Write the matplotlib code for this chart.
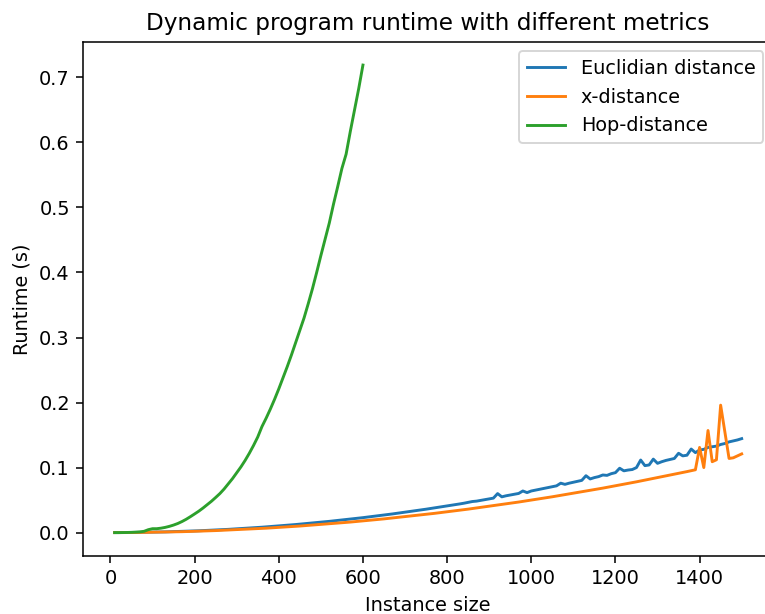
import matplotlib
matplotlib.use("Agg")
import matplotlib.pyplot as plt

# instance sizes (step 10)
sizes = list(range(10, 1510, 10))

# Euclidian distance runtime (s)
euclid = [
    0.0000, 0.0000, 0.0001, 0.0001, 0.0002, 0.0002, 0.0003, 0.0004, 0.0005, 0.0006,
    0.0008, 0.0009, 0.0011, 0.0013, 0.0014, 0.0016, 0.0018, 0.0021, 0.0023, 0.0026,
    0.0028, 0.0031, 0.0034, 0.0037, 0.0040, 0.0043, 0.0047, 0.0050, 0.0054, 0.0058,
    0.0062, 0.0066, 0.0070, 0.0074, 0.0078, 0.0083, 0.0088, 0.0092, 0.0097, 0.0102,
    0.0108, 0.0113, 0.0118, 0.0124, 0.0130, 0.0135, 0.0141, 0.0147, 0.0154, 0.0160,
    0.0166, 0.0173, 0.0180, 0.0187, 0.0194, 0.0201, 0.0208, 0.0215, 0.0223, 0.0230,
    0.0238, 0.0246, 0.0254, 0.0262, 0.0270, 0.0279, 0.0287, 0.0296, 0.0305, 0.0314,
    0.0323, 0.0332, 0.0341, 0.0350, 0.0360, 0.0370, 0.0379, 0.0389, 0.0399, 0.0410,
    0.0420, 0.0430, 0.0441, 0.0452, 0.0465, 0.0478, 0.0484, 0.0496, 0.0507, 0.0518,
    0.0530, 0.0600, 0.0550, 0.0566, 0.0578, 0.0590, 0.0602, 0.0640, 0.0615, 0.0640,
    0.0653, 0.0666, 0.0679, 0.0692, 0.0706, 0.0719, 0.0760, 0.0742, 0.0760, 0.0774,
    0.0789, 0.0803, 0.0875, 0.0825, 0.0846, 0.0861, 0.0886, 0.0880, 0.0906, 0.0922,
    0.0990, 0.0950, 0.0962, 0.0970, 0.1000, 0.1116, 0.1030, 0.1040, 0.1130, 0.1065,
    0.1090, 0.1110, 0.1125, 0.1140, 0.1220, 0.1180, 0.1190, 0.1285, 0.1230, 0.1270,
    0.1280, 0.1310, 0.1320, 0.1330, 0.1355, 0.1370, 0.1395, 0.1410, 0.1425, 0.1445,
]

# x-distance runtime (s)
xdist = [
    0.0000, 0.0000, 0.0000, 0.0001, 0.0001, 0.0002, 0.0002, 0.0003, 0.0004, 0.0005,
    0.0006, 0.0007, 0.0008, 0.0010, 0.0011, 0.0013, 0.0014, 0.0016, 0.0018, 0.0020,
    0.0022, 0.0024, 0.0026, 0.0029, 0.0031, 0.0034, 0.0036, 0.0039, 0.0042, 0.0045,
    0.0048, 0.0051, 0.0054, 0.0058, 0.0061, 0.0065, 0.0068, 0.0072, 0.0076, 0.0080,
    0.0084, 0.0088, 0.0092, 0.0097, 0.0101, 0.0106, 0.0110, 0.0115, 0.0120, 0.0125,
    0.0130, 0.0135, 0.0140, 0.0146, 0.0151, 0.0157, 0.0162, 0.0168, 0.0174, 0.0180,
    0.0186, 0.0192, 0.0198, 0.0205, 0.0211, 0.0218, 0.0224, 0.0231, 0.0238, 0.0245,
    0.0252, 0.0259, 0.0266, 0.0274, 0.0281, 0.0289, 0.0296, 0.0304, 0.0312, 0.0320,
    0.0328, 0.0336, 0.0344, 0.0353, 0.0361, 0.0370, 0.0378, 0.0387, 0.0396, 0.0405,
    0.0414, 0.0423, 0.0432, 0.0442, 0.0451, 0.0461, 0.0470, 0.0480, 0.0490, 0.0500,
    0.0510, 0.0520, 0.0530, 0.0541, 0.0551, 0.0562, 0.0572, 0.0583, 0.0594, 0.0605,
    0.0616, 0.0627, 0.0638, 0.0650, 0.0661, 0.0673, 0.0684, 0.0696, 0.0708, 0.0720,
    0.0732, 0.0744, 0.0756, 0.0769, 0.0781, 0.0794, 0.0806, 0.0819, 0.0832, 0.0845,
    0.0858, 0.0871, 0.0884, 0.0898, 0.0911, 0.0925, 0.0938, 0.0952, 0.0966, 0.1310,
    0.1000, 0.1570, 0.1090, 0.1120, 0.1960, 0.1550, 0.1140, 0.1150, 0.1180, 0.1210,
]

# Hop-distance runtime (s), only up to size 600
hop_sizes = list(range(10, 610, 10))
hop = [
    0.0000, 0.0000, 0.0001, 0.0002, 0.0004, 0.0007, 0.0011, 0.0020, 0.0045, 0.0060,
    0.0060, 0.0068, 0.0080, 0.0096, 0.0116, 0.0140, 0.0170, 0.0205, 0.0245, 0.0287,
    0.0330, 0.0378, 0.0430, 0.0482, 0.0540, 0.0600, 0.0670, 0.0750, 0.0830, 0.0920,
    0.1010, 0.1110, 0.1220, 0.1340, 0.1470, 0.1630, 0.1760, 0.1900, 0.2050, 0.2210,
    0.2380, 0.2550, 0.2730, 0.2920, 0.3110, 0.3300, 0.3520, 0.3750, 0.4000, 0.4260,
    0.4510, 0.4760, 0.5050, 0.5320, 0.5600, 0.5820, 0.6170, 0.6500, 0.6830, 0.7190,
]

fig = plt.figure(figsize=(765 / 139, 614 / 139), dpi=139)
ax = fig.add_axes([0.1089, 0.0945, 0.9016, 0.8376])

ax.plot(sizes, euclid, label="Euclidian distance")
ax.plot(sizes, xdist, label="x-distance")
ax.plot(hop_sizes, hop, label="Hop-distance")

ax.set_title("Dynamic program runtime with different metrics")
ax.set_xlabel("Instance size")
ax.set_ylabel("Runtime (s)")
ax.legend(loc="upper right")

fig.savefig("out.png", dpi=139)
